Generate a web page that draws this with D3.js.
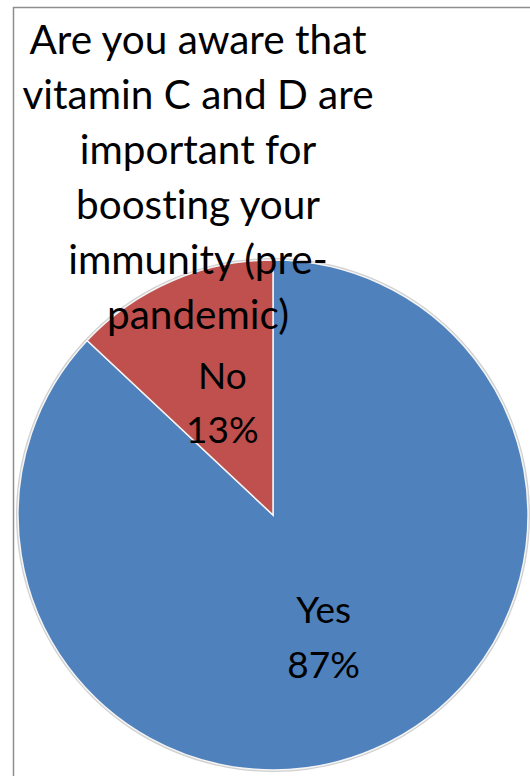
<!DOCTYPE html>
<html>
<head>
<meta charset="utf-8">
<script src="https://cdn.jsdelivr.net/npm/d3@7"></script>
<style>
  html, body { margin: 0; padding: 0; background: #fff; }
  svg { display: block; }
  text { font-variant-ligatures: none; font-feature-settings: "liga" 0; }
</style>
</head>
<body>
<svg id="chart" width="530" height="776"></svg>
<script>
const categories = ["Yes", "No"];
const values = [87, 13];
const colors = ["#4F81BD", "#C0504D"];
const titleLines = ["Are you aware that", "vitamin C and D are", "important for", "boosting your", "immunity (pre-", "pandemic)"];

const svg = d3.select("#chart");
const W = 530, H = 776;
const cx = 273, cy = 515, R = 255;
const font = "Lato, 'Open Sans', sans-serif";

// frame
svg.append("path")
  .attr("d", `M13.5,${H} L13.5,7.5 L${W},7.5`)
  .attr("fill", "none").attr("stroke", "#8e8e8e").attr("stroke-width", 1.5);

const data = categories.map((c, i) => ({ cat: c, value: values[i], color: colors[i] }));
const pie = d3.pie().value(d => d.value).sort(null).startAngle(0).endAngle(2 * Math.PI);
const arc = d3.arc().innerRadius(0).outerRadius(R);
const labelArc = d3.arc().innerRadius(0).outerRadius(R);

const g = svg.append("g").attr("transform", `translate(${cx},${cy})`);
g.append("circle").attr("r", R + 1).attr("fill", "none").attr("stroke", "#d0d0d0").attr("stroke-width", 2);
const arcs = pie(data);
g.selectAll("path.slice").data(arcs).join("path")
  .attr("class", "slice")
  .attr("d", arc)
  .attr("fill", d => d.data.color)
  .attr("stroke", "#f4f4f4").attr("stroke-width", 1.5);

const total = d3.sum(values);
const lbl = g.selectAll("text.lbl").data(arcs).join("text")
  .attr("class", "lbl")
  .attr("transform", d => { const c = labelArc.centroid(d); return `translate(${c[0]},${c[1]})`; })
  .attr("text-anchor", "middle")
  .style("font-family", font).style("font-size", "37px").attr("fill", "#000");
lbl.append("tspan").attr("x", 0).attr("dy", "-0.25em").text(d => d.data.cat);
lbl.append("tspan").attr("x", 0).attr("dy", "1.48em").text(d => Math.round(d.data.value / total * 100) + "%");

// title
const title = svg.append("text").attr("text-anchor", "middle")
  .style("font-family", font).style("font-size", "40.5px").attr("fill", "#000");
titleLines.forEach((t, i) => {
  title.append("tspan").attr("x", 198).attr("y", 54 + i * 55).text(t);
});
</script>
</body>
</html>
